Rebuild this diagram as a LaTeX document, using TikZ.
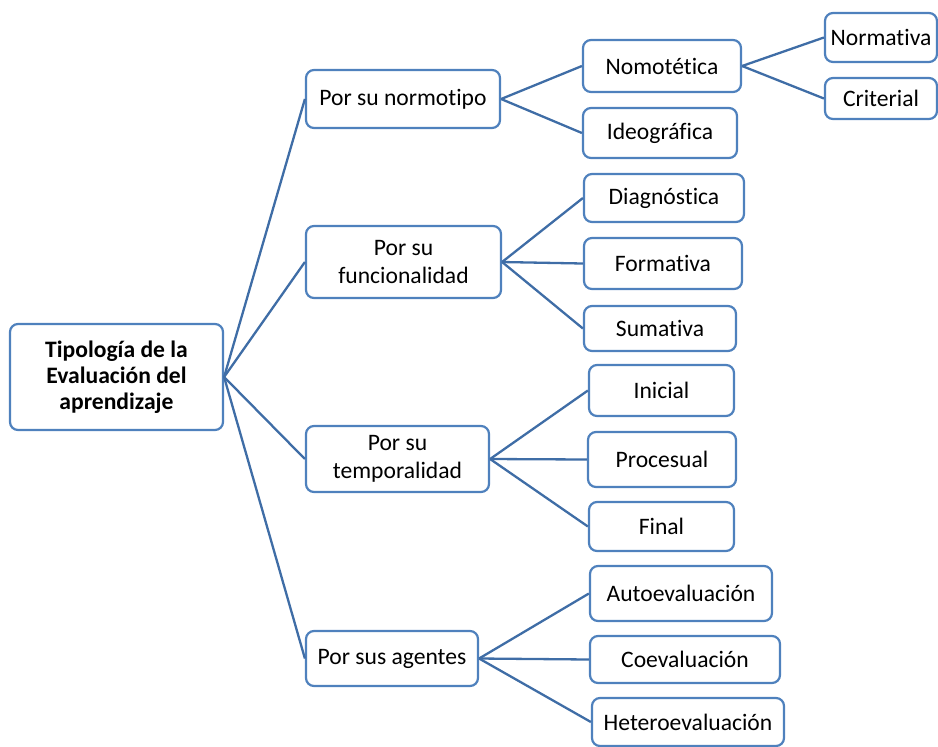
\documentclass[tikz,border=0pt]{standalone}
\usepackage{fontspec}
\setmainfont{Carlito}[Ligatures=NoCommon]
\usepackage{tikz}
\usetikzlibrary{positioning}

\definecolor{boxblue}{HTML}{4F81BD}
\definecolor{lineblue}{HTML}{3F6DA6}

\begin{document}
\begin{tikzpicture}[x=0.5pt, y=-0.5pt,
	tipo/.style = {draw = boxblue, line width = 1.1pt, rounded corners = 4pt, fill = white,
		align = center, inner sep = 0pt, font = \fontsize{11.8}{14}\selectfont},
	conn/.style = {draw = lineblue, line width = 1.15pt}]
	\useasboundingbox (0, 0) rectangle (938, 746);

	\node[tipo, minimum width = 106.5pt, minimum height = 53pt, font = \fontsize{11.8}{13}\selectfont\bfseries] (raiz) at (116.5, 377) {Tipología de la\\Evaluación del\\aprendizaje};

	\node[tipo, minimum width = 97pt, minimum height = 29pt] (norm) at (403, 99) {Por su normotipo};
	\node[tipo, minimum width = 97.5pt, minimum height = 36pt] (func) at (403.5, 262) {Por su\\funcionalidad};
	\node[tipo, minimum width = 91.5pt, minimum height = 33pt] (temp) at (397.5, 459) {Por su\\temporalidad};
	\node[tipo, minimum width = 86pt, minimum height = 27.5pt] (agen) at (392, 658.5) {Por sus agentes};

	\node[tipo, minimum width = 79pt, minimum height = 26pt] (nomo) at (662, 66) {Nomotética};
	\node[tipo, minimum width = 77pt, minimum height = 25pt] (ideo) at (660, 133) {Ideográfica};

	\node[tipo, minimum width = 80pt, minimum height = 24pt] (diag) at (664, 198) {Diagnóstica};
	\node[tipo, minimum width = 79pt, minimum height = 25.5pt] (form) at (663, 263.5) {Formativa};
	\node[tipo, minimum width = 76pt, minimum height = 22.5pt] (suma) at (660, 328.5) {Sumativa};

	\node[tipo, minimum width = 72.5pt, minimum height = 25.5pt] (inic) at (661.5, 390.5) {Inicial};
	\node[tipo, minimum width = 74pt, minimum height = 27.5pt] (proc) at (662, 459.5) {Procesual};
	\node[tipo, minimum width = 72.5pt, minimum height = 24.5pt] (fina) at (661.5, 526.5) {Final};

	\node[tipo, minimum width = 91pt, minimum height = 27.5pt] (auto) at (681, 593.5) {Autoevaluación};
	\node[tipo, minimum width = 95pt, minimum height = 23.5pt] (coev) at (685, 659.5) {Coevaluación};
	\node[tipo, minimum width = 96pt, minimum height = 24pt] (hete) at (688, 722) {Heteroevaluación};

	\node[tipo, minimum width = 56pt, minimum height = 24.5pt] (nrmt) at (881, 37.5) {Normativa};
	\node[tipo, minimum width = 56pt, minimum height = 20.5pt] (crit) at (881, 98.5) {Criterial};

	\draw[conn]
	(raiz.east) edge (norm.west)
	(raiz.east) edge (func.west)
	(raiz.east) edge (temp.west)
	(raiz.east) edge (agen.west)

	(norm.east) edge (nomo.west)
	(norm.east) edge (ideo.west)

	(func.east) edge (diag.west)
	(func.east) edge (form.west)
	(func.east) edge (suma.west)

	(temp.east) edge (inic.west)
	(temp.east) edge (proc.west)
	(temp.east) edge (fina.west)

	(agen.east) edge (auto.west)
	(agen.east) edge (coev.west)
	(agen.east) edge (hete.west)

	(nomo.east) edge (nrmt.west)
	(nomo.east) edge (crit.west);

\end{tikzpicture}
\end{document}
